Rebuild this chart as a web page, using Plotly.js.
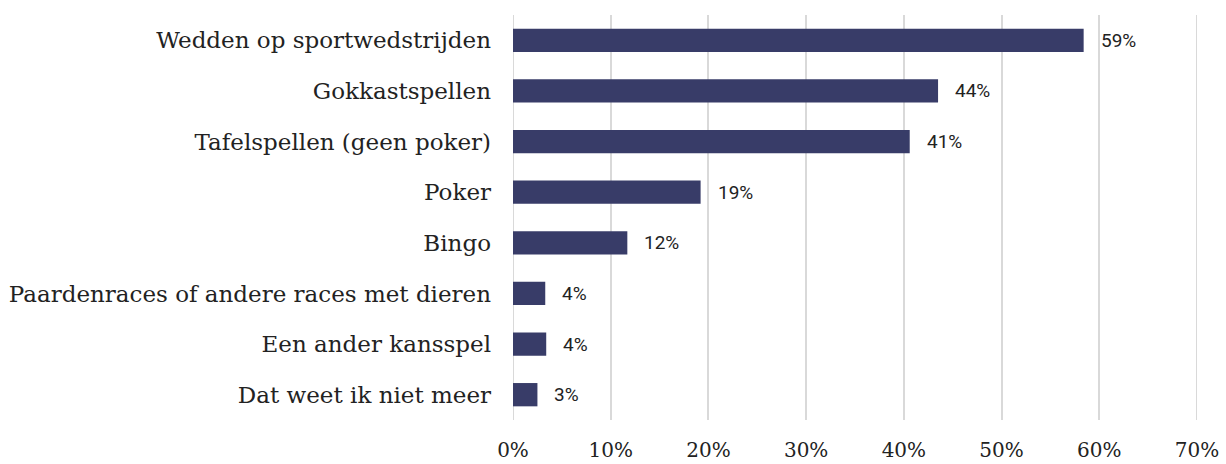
<!DOCTYPE html>
<html><head><meta charset="utf-8">
<script src="https://cdn.plot.ly/plotly-3.0.1.min.js"></script>
<style>html,body{margin:0;padding:0;background:#fff}#chart{width:1226px;height:464px}</style>
</head><body><div id="chart"></div>
<script>
const categories = ["Wedden op sportwedstrijden","Gokkastspellen","Tafelspellen (geen poker)","Poker","Bingo","Paardenraces of andere races met dieren","Een ander kansspel","Dat weet ik niet meer"];
const values = [58.4, 43.5, 40.6, 19.2, 11.7, 3.3, 3.4, 2.5];
const labels = ["59%","44%","41%","19%","12%","4%","4%","3%"];
const tickVals = [0,10,20,30,40,50,60,70];
const tickText = ["0%","10%","20%","30%","40%","50%","60%","70%"];

const trace = {
  type: "bar", orientation: "h",
  x: values, y: categories,
  marker: {color: "#383c68", line: {width: 0}},
  width: 0.46, hoverinfo: "skip"
};
const annotations = values.map((v, i) => ({
  x: v, y: categories[i], xref: "x", yref: "y",
  text: labels[i], showarrow: false, xanchor: "left", yanchor: "middle",
  xshift: 15, font: {family: "Roboto, Arial, sans-serif", size: 19, color: "#222"}
}));
const gridShapes = tickVals.filter(t => t === 0 || t === 70).map(t => ({
  type: "line", xref: "x", yref: "paper", x0: t, x1: t, y0: 0, y1: 1,
  line: {color: "#d9d9d9", width: 2}, layer: "below"
}));
const layout = {
  width: 1226, height: 464,
  margin: {l: 513, r: 29, t: 15, b: 44},
  paper_bgcolor: "#fff", plot_bgcolor: "#fff",
  showlegend: false,
  xaxis: {range: [0, 70], tickvals: tickVals, ticktext: tickText,
    showgrid: true, gridcolor: "#d9d9d9", gridwidth: 2,
    zeroline: false, showline: false, ticklabelstandoff: 16,
    tickfont: {family: "DejaVu Serif, serif", size: 20, color: "#222"}, fixedrange: true},
  yaxis: {autorange: "reversed", type: "category", showgrid: false, zeroline: false,
    ticklabelstandoff: 21,
    tickfont: {family: "DejaVu Serif, serif", size: 23, color: "#222"}},
  annotations: annotations,
  shapes: gridShapes
};
Plotly.newPlot("chart", [trace], layout, {displayModeBar: false, staticPlot: true});
</script></body></html>
